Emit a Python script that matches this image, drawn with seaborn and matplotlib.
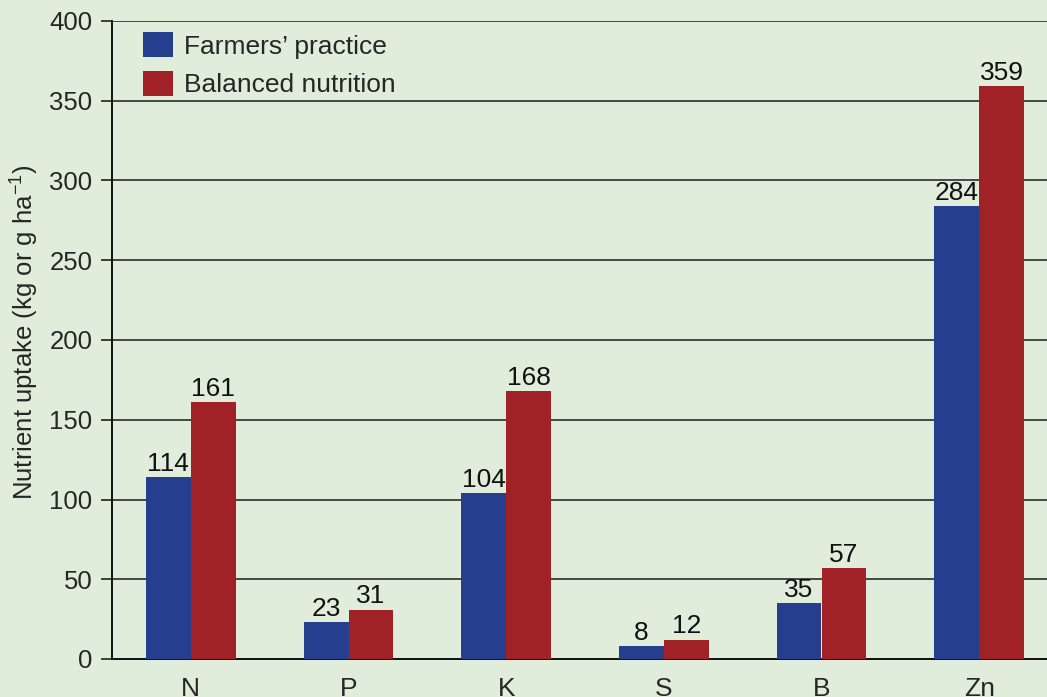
import numpy as np
import pandas as pd
import matplotlib
matplotlib.use("Agg")
import matplotlib.pyplot as plt
import seaborn as sns

nutrients = ["N", "P", "K", "S", "B", "Zn"]
farmers_practice = [114, 23, 104, 8, 35, 284]
balanced_nutrition = [161, 31, 168, 12, 57, 359]
series_names = ["Farmers\u2019 practice", "Balanced nutrition"]
y_ticks = [0, 50, 100, 150, 200, 250, 300, 350, 400]

bg = "#E1EDDB"
colors = ["#253F8E", "#A02226"]
fs = 19

sns.set_theme(style="white")
plt.rcParams["font.family"] = ["Liberation Sans", "DejaVu Sans"]
plt.rcParams["mathtext.default"] = "regular"

df = pd.DataFrame({
    "Nutrient": nutrients * 2,
    "Uptake": farmers_practice + balanced_nutrition,
    "Treatment": [series_names[0]] * len(nutrients) + [series_names[1]] * len(nutrients),
})

fig = plt.figure(figsize=(10.47, 6.97), dpi=100, facecolor=bg)
ax = fig.add_axes([112 / 1047, 38 / 697, 946 / 1047, 638 / 697])
ax.set_facecolor(bg)

sns.barplot(data=df, x="Nutrient", y="Uptake", hue="Treatment",
            order=nutrients, hue_order=series_names,
            palette=colors, width=0.57, gap=0, saturation=1,
            linewidth=0, ax=ax, zorder=3)

for container in ax.containers:
    ax.bar_label(container, fmt="%d", padding=1, fontsize=fs, color="#111111")

ax.set_ylim(0, 400)
ax.set_xlim(-0.5, len(nutrients) - 0.5)
ax.set_yticks(y_ticks)
ax.yaxis.grid(True, color="#3a3a3a", linewidth=1.3, zorder=0)
ax.set_axisbelow(True)

ax.set_xticks(np.arange(-0.5, len(nutrients)), minor=True)
ax.tick_params(axis="x", which="major", length=0, labelsize=fs, pad=13)
ax.tick_params(axis="x", which="minor", length=8, width=1.2, color="#222222", direction="out")
ax.tick_params(axis="y", length=8, width=1.2, color="#222222", direction="out",
               labelsize=18.5, pad=6, left=True)

for s in ["top", "right"]:
    ax.spines[s].set_visible(False)
for s in ["left", "bottom"]:
    ax.spines[s].set_color("#111111")
    ax.spines[s].set_linewidth(1.4)

ax.set_xlabel("")
ax.set_ylabel("Nutrient uptake (kg or g ha$^{-1}$)", fontsize=18.5)
ax.yaxis.set_label_coords(-0.075, 0.512)

leg = ax.legend(loc="upper left", bbox_to_anchor=(31 / 946, 1 - 11 / 638), frameon=False,
                borderpad=0, borderaxespad=0,
                fontsize=fs, handlelength=1.15, handleheight=1.1,
                handletextpad=0.42, labelspacing=0.45)

fig.savefig("out.png", dpi=100, facecolor=bg)
